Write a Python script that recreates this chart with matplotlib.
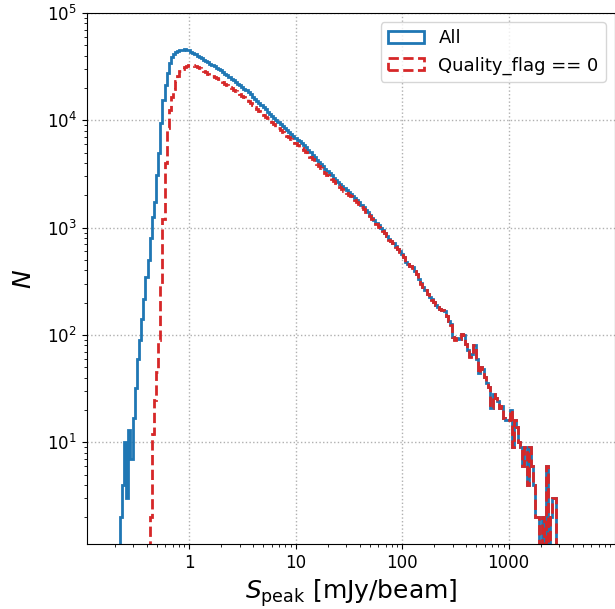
import numpy as np
import matplotlib
matplotlib.use("Agg")
import matplotlib.pyplot as plt

# log-spaced bins of S_peak (mJy/beam), 0.02 dex wide, 10^-0.65 .. 10^3.45
bin_edges = np.logspace(-0.65, 3.45, 206)

# counts per bin, all sources
counts_all = [
    2, 4, 10, 3, 13, 7, 17, 32, 60, 90,
    140, 215, 350, 500, 800, 1250, 1750, 3100, 5000, 9500,
    15500, 21500, 27500, 34000, 38500, 41500, 43300, 44500, 45200, 45600,
    45700, 45400, 44900, 43650, 42460, 41200, 40100, 39000, 37850, 36800,
    35730, 34670, 33730, 32730, 31770, 30900, 29990, 29110, 28120, 27160,
    26180, 25290, 24430, 23600, 22750, 21980, 21230, 20510, 19770, 19100,
    18240, 17420, 16630, 15890, 15170, 14490, 13840, 13210, 12620, 12050,
    11510, 10990, 10500, 10020, 9620, 9230, 8850, 8490, 8150, 7820,
    7500, 7190, 6900, 6620, 6350, 6100, 5850, 5610, 5320, 5050,
    4790, 4540, 4310, 4080, 3890, 3720, 3540, 3380, 3220, 3070,
    2930, 2790, 2670, 2540, 2440, 2330, 2240, 2140, 2060, 1970,
    1890, 1810, 1740, 1640, 1560, 1470, 1390, 1320, 1240, 1180,
    1110, 1050, 995, 942, 900, 841, 780, 753, 720, 674,
    637, 603, 562, 530, 478, 457, 442, 427, 398, 372,
    331, 302, 282, 263, 240, 224, 214, 204, 191, 182,
    174, 170, 166, 151, 135, 126, 95, 91, 93, 91,
    102, 100, 83, 72, 63, 66, 81, 60, 44, 50,
    48, 41, 36, 33, 21, 28, 26, 24, 21, 22,
    17, 16, 16, 20, 9, 16, 14, 10, 9, 6,
    9, 4, 9, 6, 4, 2, 2, 1, 2, 1,
    6, 1, 2, 3, 3,
]

# counts per bin, Quality_flag == 0
counts_q0 = [
    0, 0, 0, 0, 0, 0, 0, 0, 0, 0,
    0, 0, 0, 0, 2, 12, 25, 45, 90, 300,
    1200, 4000, 8500, 12500, 16500, 19500, 23000, 26000, 28500, 30300,
    31500, 32200, 32600, 32700, 32500, 31900, 31200, 30400, 29600, 28800,
    28050, 27290, 26680, 25950, 25290, 24660, 24050, 23400, 22640, 21920,
    21180, 20510, 19860, 19230, 18590, 17980, 17410, 16900, 16370, 15890,
    15210, 14600, 13990, 13400, 12850, 12330, 11810, 11320, 10840, 10400,
    9960, 9550, 9150, 8750, 8420, 8090, 7780, 7480, 7200, 6920,
    6650, 6390, 6150, 5910, 5680, 5480, 5260, 5060, 4810, 4580,
    4350, 4130, 3930, 3730, 3560, 3410, 3260, 3120, 2980, 2850,
    2720, 2600, 2490, 2380, 2290, 2190, 2110, 2020, 1950, 1870,
    1800, 1720, 1660, 1570, 1500, 1410, 1340, 1275, 1200, 1145,
    1080, 1024, 972, 922, 883, 827, 768, 743, 712, 667,
    631, 598, 558, 527, 476, 455, 440, 425, 397, 371,
    330, 301, 281, 262, 239, 223, 213, 203, 190, 181,
    173, 169, 165, 150, 134, 125, 95, 90, 93, 91,
    101, 99, 83, 72, 62, 66, 81, 60, 44, 50,
    48, 41, 36, 33, 21, 28, 26, 24, 21, 22,
    17, 16, 16, 20, 9, 16, 14, 10, 9, 6,
    9, 4, 9, 6, 4, 2, 2, 1, 2, 1,
    6, 1, 2, 3, 3,
]

xticks = [1, 10, 100, 1000]
xtick_labels = ["1", "10", "100", "1000"]

fig = plt.figure(figsize=(6.15, 6.09), dpi=100)
ax = fig.add_axes([0.141, 0.1062, 0.859, 0.8725])

centers = np.sqrt(bin_edges[:-1] * bin_edges[1:])
ax.hist(centers, bins=bin_edges, weights=counts_all, histtype="step",
        color="tab:blue", lw=2, log=True, label="All")
ax.hist(centers, bins=bin_edges, weights=counts_q0, histtype="step",
        color="tab:red", lw=2, ls="--", log=True, label="Quality_flag == 0")

ax.set_xscale("log")
ax.set_xlim(0.1094, 1e4)
ax.set_ylim(1.12, 1e5)
ax.set_xticks(xticks)
ax.set_xticklabels(xtick_labels)
ax.tick_params(labelsize=12)
ax.grid(True, ls=":", color="#b0b0b0", lw=1)

ax.set_xlabel(r"$S_{\rm peak}$ [mJy/beam]", fontsize=18)
ax.set_ylabel(r"$N$", fontsize=18, labelpad=8)
ax.legend(loc="upper right", fontsize=13)

fig.savefig("out.png", dpi=100)
